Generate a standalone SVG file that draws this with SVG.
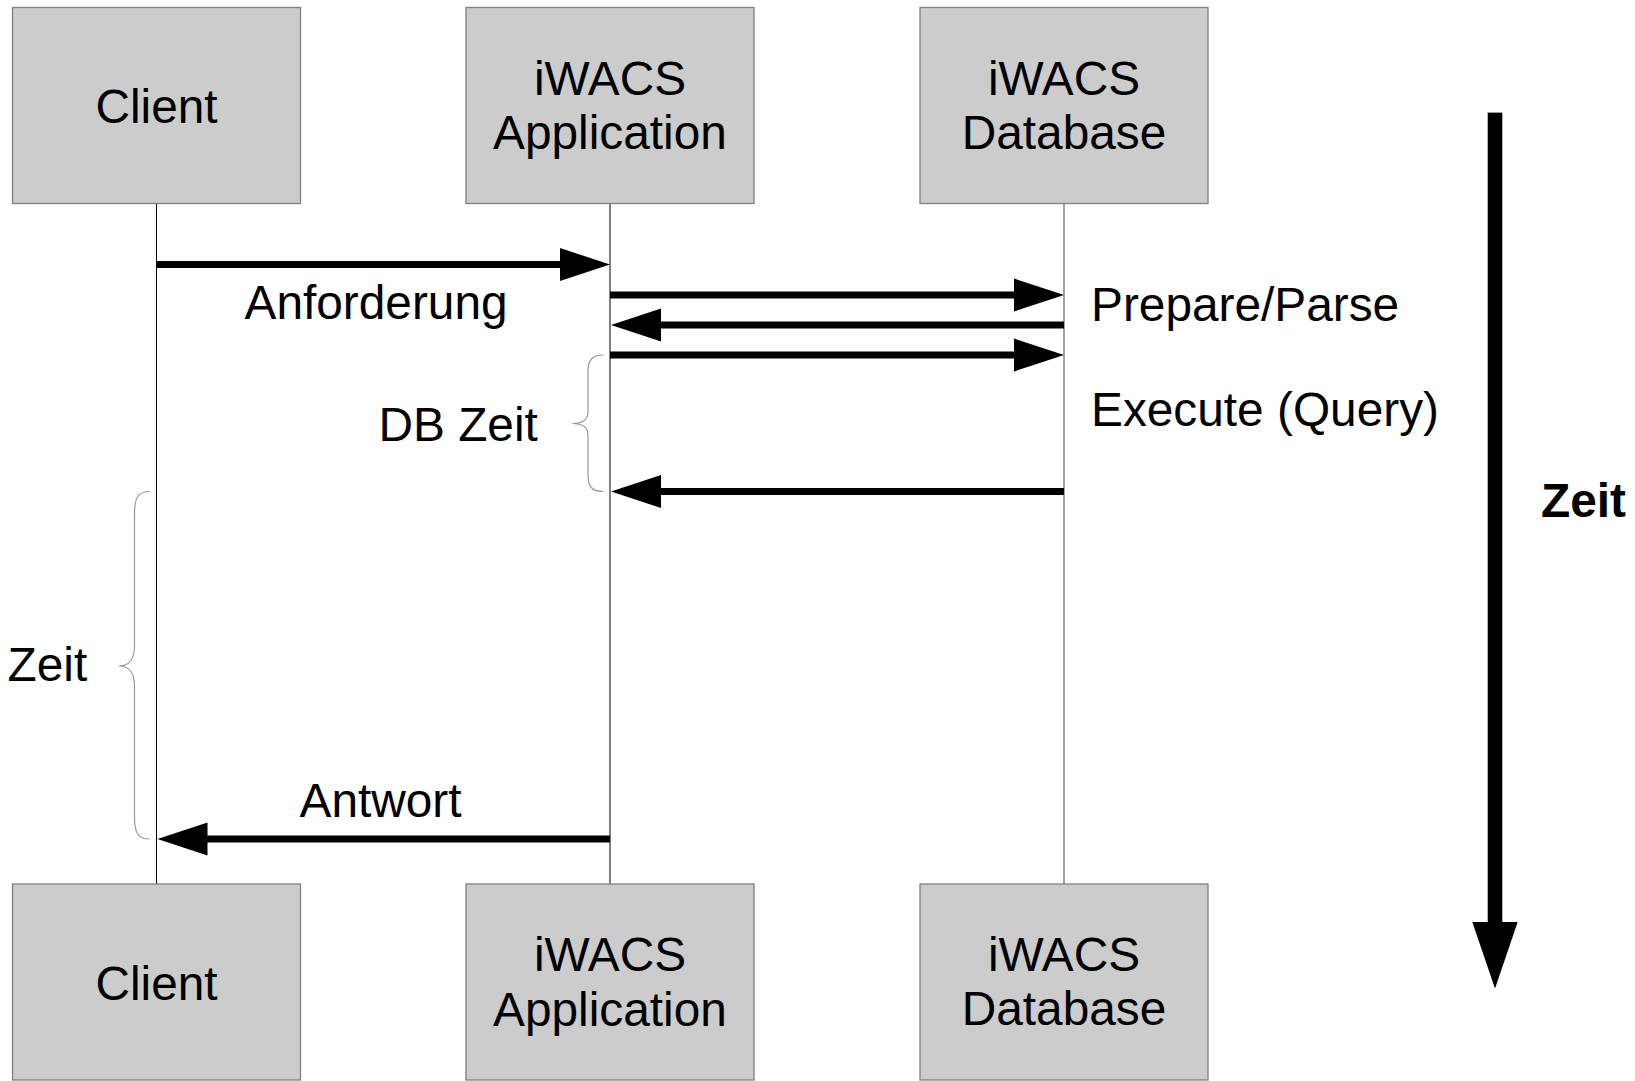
<svg xmlns="http://www.w3.org/2000/svg" width="1635" height="1081" viewBox="0 0 1635 1081">
<style>
.box{fill:#cccccc;stroke:#808080;stroke-width:1.3}
.lbl{font-family:"Liberation Sans",Arial,sans-serif;font-size:47.8px;fill:#000}
.ctr{text-anchor:middle}
.life{stroke:#000;stroke-width:1;fill:none}
.msg{stroke:#000;stroke-width:7;fill:none}
.head{fill:#000}
.brace{fill:none;stroke:#999999;stroke-width:1.2}
</style>
<rect width="1635" height="1081" fill="#ffffff"/>
<g id="lifelines">
<line class="life" x1="156.5" y1="204" x2="156.5" y2="884"/>
<line class="life" x1="610" y1="204" x2="610" y2="884"/>
<line class="life" x1="1064" y1="204" x2="1064" y2="884" style="stroke:#707070;stroke-width:1.3"/>
</g>
<g id="client-top"><rect class="box" x="12.5" y="7.5" width="288" height="196"/><text class="lbl ctr" x="156.5" y="122.5">Client</text></g>
<g id="app-top"><rect class="box" x="466" y="7.5" width="288" height="196"/><text class="lbl ctr" x="610" y="95">iWACS</text><text class="lbl ctr" x="610" y="149">Application</text></g>
<g id="db-top"><rect class="box" x="920" y="7.5" width="288" height="196"/><text class="lbl ctr" x="1064" y="95">iWACS</text><text class="lbl ctr" x="1064" y="148.5">Database</text></g>
<g id="client-bottom"><rect class="box" x="12.5" y="884" width="288" height="196"/><text class="lbl ctr" x="156.5" y="999.5">Client</text></g>
<g id="app-bottom"><rect class="box" x="466" y="884" width="288" height="196"/><text class="lbl ctr" x="610" y="971">iWACS</text><text class="lbl ctr" x="610" y="1025.5">Application</text></g>
<g id="db-bottom"><rect class="box" x="920" y="884" width="288" height="196"/><text class="lbl ctr" x="1064" y="971">iWACS</text><text class="lbl ctr" x="1064" y="1025">Database</text></g>
<g id="connectors">
<line class="msg" x1="156.5" y1="264.5" x2="562" y2="264.5"/>
<polygon class="head" points="560,248 610,264.5 560,281"/>
<line class="msg" x1="610" y1="295" x2="1015" y2="295"/>
<polygon class="head" points="1014,278.5 1064,295 1014,311.5"/>
<line class="msg" x1="659" y1="325" x2="1064" y2="325"/>
<polygon class="head" points="661,308.5 611,325 661,341.5"/>
<line class="msg" x1="610" y1="355" x2="1015" y2="355"/>
<polygon class="head" points="1014,338.5 1064,355 1014,371.5"/>
<line class="msg" x1="659" y1="491.5" x2="1064" y2="491.5"/>
<polygon class="head" points="661,475 611,491.5 661,508"/>
<line class="msg" x1="205" y1="839" x2="610" y2="839"/>
<polygon class="head" points="207.5,822.5 157.5,839 207.5,855.5"/>
</g>
<g id="braces">
<path class="brace" d="M603.5,355 C592,355 588,360 588,372 L588,412 C588,420 582,423.5 572.5,423.5 C582,423.5 588,427 588,435 L588,475 C588,487 592,491.5 603.5,491.5"/>
<path class="brace" d="M149.5,491.5 C138,491.5 134.5,498 134.5,514 L134.5,646 C134.5,660 128,666 119,666 C128,666 134.5,672 134.5,686 L134.5,817 C134.5,833 138,839 149.5,839"/>
</g>
<g id="labels">
<text class="lbl" x="244.5" y="318.5">Anforderung</text>
<text class="lbl" x="378.5" y="441">DB Zeit</text>
<text class="lbl" x="7.5" y="681">Zeit</text>
<text class="lbl" x="299.5" y="817">Antwort</text>
<text class="lbl" x="1091" y="321">Prepare/Parse</text>
<text class="lbl" x="1091" y="425.5">Execute (Query)</text>
</g>
<g id="time-axis">
<rect x="1487.7" y="112.6" width="14.6" height="812" fill="#000"/>
<polygon class="head" points="1472.3,922 1517.7,922 1495,988.5"/>
<text class="lbl" x="1541" y="516.7" font-weight="bold">Zeit</text>
</g>
</svg>
